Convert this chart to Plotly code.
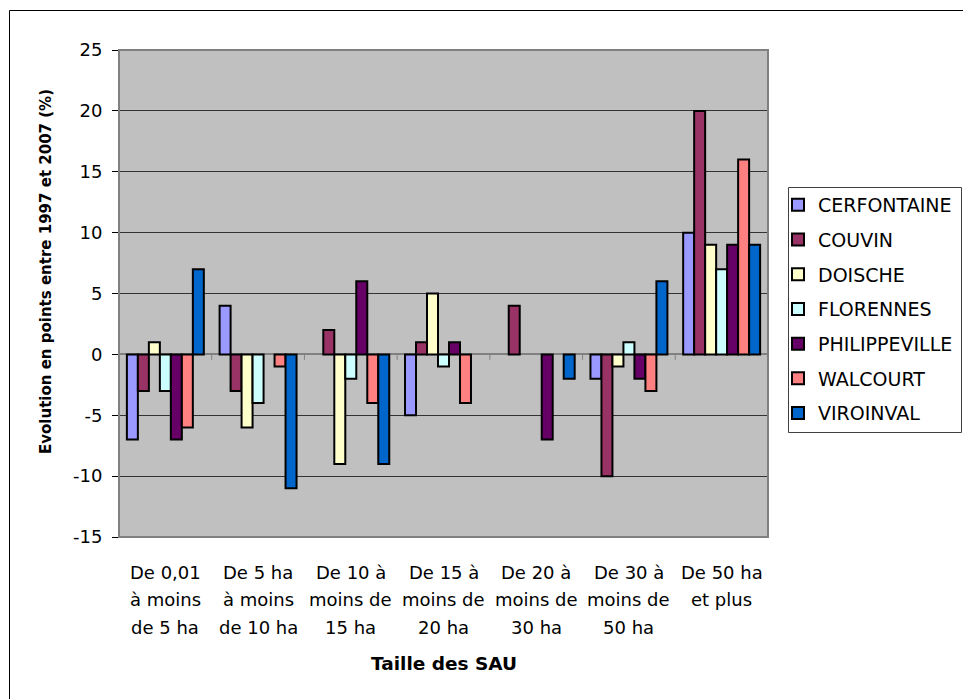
import plotly.graph_objects as go

# Farm size classes (SAU) and change in share, in points, between 1997 and 2007
categories = [
    "De 0,01\nà moins\nde 5 ha",
    "De 5 ha\nà moins\nde 10 ha",
    "De 10 à\nmoins de\n15 ha",
    "De 15 à\nmoins de\n20 ha",
    "De 20 à\nmoins de\n30 ha",
    "De 30 à\nmoins de\n50 ha",
    "De 50 ha\net plus",
]

communes = ["CERFONTAINE", "COUVIN", "DOISCHE", "FLORENNES",
            "PHILIPPEVILLE", "WALCOURT", "VIROINVAL"]

cerfontaine = [-7, 4, 0, -5, 0, -2, 10]
couvin = [-3, -3, 2, 1, 4, -10, 20]
doische = [1, -6, -9, 5, 0, -1, 9]
florennes = [-3, -4, -2, -1, 0, 1, 7]
philippeville = [-7, 0, 6, 1, -7, -2, 9]
walcourt = [-6, -1, -4, -4, 0, -3, 16]
viroinval = [7, -11, -9, 0, -2, 6, 9]

y_ticks = [-15, -10, -5, 0, 5, 10, 15, 20, 25]

series = [cerfontaine, couvin, doische, florennes, philippeville, walcourt, viroinval]
colors = ["#9999FF", "#993366", "#FFFFCC", "#CCFFFF", "#660066", "#FF8080", "#0066CC"]

FONT = "DejaVu Sans"
W, H = 963, 699
L, R, T, B = 119, 195, 50, 162
plot_h = H - T - B
plot_w = W - L - R

x_idx = list(range(len(categories)))

fig = go.Figure()
for name, vals, col in zip(communes, series, colors):
    # a zero change leaves no visible bar (no flat outline on the axis)
    shown = [v if v != 0 else None for v in vals]
    fig.add_trace(go.Bar(
        x=x_idx, y=shown, name=name, legendgroup=name,
        marker=dict(color=col, line=dict(color="black", width=2)),
    ))


def py(px):
    """Convert a pixel row to paper y."""
    return (H - B - px) / plot_h


def px_x(px):
    """Convert a pixel column to paper x."""
    return (px - L) / plot_w


annotations = []
# Category labels, one annotation per text row
row_px = [572, 599, 627]
for i, cat in enumerate(categories):
    for j, line in enumerate(cat.split("\n")):
        annotations.append(dict(
            x=i, xref="x", y=py(row_px[j]), yref="paper",
            text=line, showarrow=False, xanchor="center", yanchor="middle",
            font=dict(family=FONT, size=18, color="black"),
        ))

annotations.append(dict(
    x=0.5, xref="paper", y=py(663), yref="paper", text="<b>Taille des SAU</b>",
    showarrow=False, xanchor="center", yanchor="middle",
    font=dict(family=FONT, size=18.5, color="black"),
))
annotations.append(dict(
    x=px_x(46), xref="paper", y=py(272), yref="paper",
    text="<b>Evolution en points entre 1997 et 2007 (%)</b>",
    showarrow=False, textangle=-90, xanchor="center", yanchor="middle",
    font=dict(family=FONT, size=15, color="black"),
))

shapes = []
# plot area frame
shapes.append(dict(type="rect", xref="paper", yref="paper", x0=0, x1=1, y0=0, y1=1,
                   line=dict(color="#808080", width=2), layer="above"))
# outer chart border
shapes.append(dict(type="rect", xref="paper", yref="paper",
                   x0=px_x(9.5), x1=px_x(975), y0=py(710), y1=py(10.5),
                   line=dict(color="black", width=1)))
# legend box
shapes.append(dict(type="rect", xref="paper", yref="paper",
                   x0=px_x(788.5), x1=px_x(961.5), y0=py(432.5), y1=py(187.5),
                   fillcolor="white", line=dict(color="#404040", width=1), layer="above"))
# category boundary ticks along the zero line
for k in range(len(categories) - 1):
    shapes.append(dict(type="line", xref="x", yref="y", x0=k + 0.5, x1=k + 0.5,
                       y0=0, y1=-0.45, line=dict(color="#808080", width=1)))

fig.update_layout(
    width=W, height=H,
    margin=dict(l=L, r=R, t=T, b=B, autoexpand=False),
    paper_bgcolor="white", plot_bgcolor="#C0C0C0",
    barmode="group", bargap=0.17, bargroupgap=0,
    font=dict(family=FONT, size=18, color="black"),
    showlegend=True,
    legend=dict(
        x=px_x(778), y=py(186), xanchor="left", yanchor="top",
        bgcolor="rgba(0,0,0,0)", borderwidth=0,
        font=dict(family=FONT, size=19, color="black"),
        tracegroupgap=7, itemwidth=30,
    ),
    xaxis=dict(
        range=[-0.5, len(categories) - 0.5], showticklabels=False, ticks="",
        showgrid=False, zeroline=False, showline=False, fixedrange=True,
    ),
    yaxis=dict(
        range=[-15, 25], tickvals=y_ticks, ticktext=[str(v) for v in y_ticks],
        ticks="outside", ticklen=6, tickcolor="black", tickwidth=1,
        showgrid=True, gridcolor="#333333", gridwidth=1,
        zeroline=True, zerolinecolor="#808080", zerolinewidth=2,
        showline=True, linecolor="black", linewidth=1,
        tickfont=dict(family=FONT, size=18, color="black"), ticklabelstandoff=6,
    ),
    annotations=annotations, shapes=shapes,
)

fig.write_html("out.html")
